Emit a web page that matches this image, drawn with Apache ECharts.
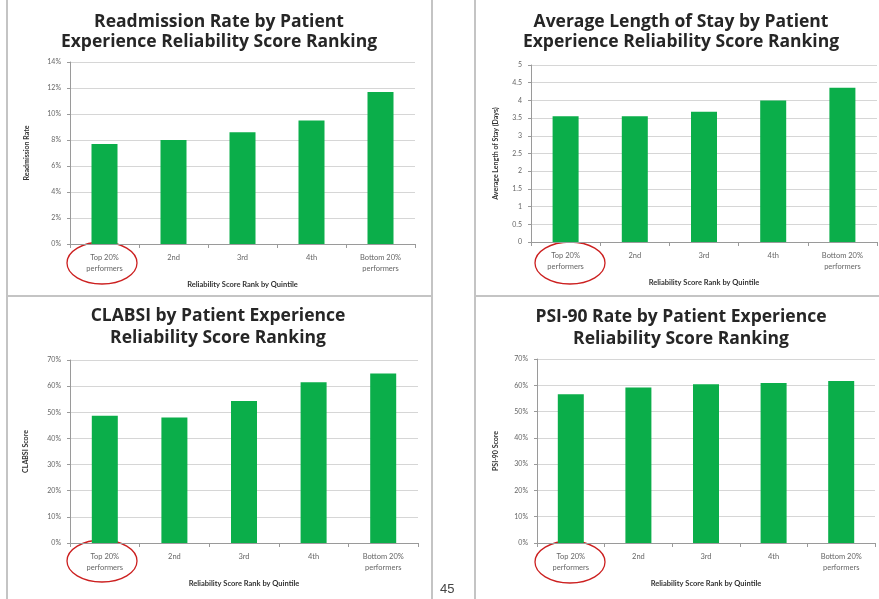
<!DOCTYPE html>
<html>
<head>
<meta charset="utf-8">
<script src="https://cdn.jsdelivr.net/npm/echarts@6/dist/echarts.min.js"></script>
<style>
  html, body { margin: 0; padding: 0; background: #fff; }
  #chart { width: 879px; height: 599px; }
</style>
</head>
<body>
<div id="chart"></div>
<script>
// Quintile categories shared by all four panels
const categories = ['Top 20%\nperformers', '2nd', '3rd', '4th', 'Bottom 20%\nperformers'];

// Panel values by quintile
const readmissionRate = [7.7, 8.0, 8.6, 9.5, 11.7];      // %
const lengthOfStay = [3.55, 3.55, 3.68, 4.0, 4.36];       // days
const clabsiScore = [48.7, 48.0, 54.3, 61.5, 64.8];       // %
const psi90Score = [56.6, 59.2, 60.4, 60.9, 61.6];        // %

// Panel titles and axis names
const titles = [
  'Readmission Rate by Patient\nExperience Reliability Score Ranking',
  'Average Length of Stay by Patient\nExperience Reliability Score Ranking',
  'CLABSI by Patient Experience\nReliability Score Ranking',
  'PSI-90 Rate by Patient Experience\nReliability Score Ranking'
];
const yNames = ['Readmission Rate', 'Average Length of Stay (Days)', 'CLABSI Score', 'PSI-90 Score'];
const xName = 'Reliability Score Rank by Quintile';

const FONT = 'Lato, "Liberation Sans", sans-serif';
const TITLE_FONT = '"Open Sans", Lato, sans-serif';
const BAR = '#0BAE4A';

const grids = [
  { left: 70, top: 62, width: 345, height: 182 },
  { left: 531, top: 65, width: 346, height: 177 },
  { left: 70, top: 360, width: 348, height: 183 },
  { left: 537, top: 359, width: 338, height: 184 }
];
const titlePos = [
  { x: 219, y: 12, lh: 20 },
  { x: 681, y: 12, lh: 20 },
  { x: 218, y: 305, lh: 22 },
  { x: 681, y: 306, lh: 22 }
];
const yScale = [
  { min: 0, max: 14, interval: 2, fmt: '{value}%', gap: 40 },
  { min: 0, max: 5, interval: 0.5, fmt: v => String(v), gap: 32 },
  { min: 0, max: 70, interval: 10, fmt: '{value}%', gap: 41 },
  { min: 0, max: 70, interval: 10, fmt: '{value}%', gap: 38 }
];
const seriesData = [readmissionRate, lengthOfStay, clabsiScore, psi90Score];

const chart = echarts.init(document.getElementById('chart'), null, { renderer: 'canvas' });

const option = {
  animation: false,
  backgroundColor: '#ffffff',
  title: titles.map((t, i) => ({
    text: t,
    left: titlePos[i].x,
    top: titlePos[i].y,
    textAlign: 'center',
    padding: 0,
    textStyle: {
      fontFamily: TITLE_FONT,
      fontWeight: 'bold',
      fontSize: 17.5,
      lineHeight: titlePos[i].lh,
      color: '#262626'
    }
  })),
  grid: grids,
  xAxis: grids.map((g, i) => ({
    type: 'category',
    gridIndex: i,
    data: categories,
    name: xName,
    nameLocation: 'middle',
    nameGap: 37,
    nameTextStyle: { fontFamily: FONT, fontSize: 7.5, fontWeight: 'bold', color: '#333' },
    axisLine: { lineStyle: { color: '#9a9a9a', width: 1 } },
    axisTick: { show: true, length: 4, lineStyle: { color: '#9a9a9a' } },
    axisLabel: { fontFamily: FONT, fontSize: 7.5, color: '#666', margin: 8, lineHeight: 11 }
  })),
  yAxis: grids.map((g, i) => ({
    type: 'value',
    gridIndex: i,
    min: yScale[i].min,
    max: yScale[i].max,
    interval: yScale[i].interval,
    name: yNames[i],
    nameLocation: 'middle',
    nameRotate: 90,
    nameGap: yScale[i].gap,
    nameTextStyle: { fontFamily: FONT, fontSize: 7, fontWeight: 'bold', color: '#333' },
    axisLine: { show: true, lineStyle: { color: '#9a9a9a', width: 1 } },
    axisTick: { show: true, length: 3, lineStyle: { color: '#9a9a9a' } },
    axisLabel: { fontFamily: FONT, fontSize: 7, color: '#666', margin: 9, formatter: yScale[i].fmt },
    splitLine: { show: true, lineStyle: { color: '#d6d6d6', width: 1 } }
  })),
  series: seriesData.map((d, i) => ({
    type: 'bar',
    xAxisIndex: i,
    yAxisIndex: i,
    data: d,
    barWidth: 26,
    itemStyle: { color: BAR },
    silent: true
  })),
  graphic: [
    // panel frames
    { type: 'line', shape: { x1: 7, y1: 0, x2: 7, y2: 599 }, style: { stroke: '#c4c4c4', lineWidth: 2 }, silent: true },
    { type: 'line', shape: { x1: 432, y1: 0, x2: 432, y2: 599 }, style: { stroke: '#c4c4c4', lineWidth: 2 }, silent: true },
    { type: 'line', shape: { x1: 475, y1: 0, x2: 475, y2: 599 }, style: { stroke: '#c4c4c4', lineWidth: 2 }, silent: true },
    { type: 'line', shape: { x1: 7, y1: 296, x2: 432, y2: 296 }, style: { stroke: '#c4c4c4', lineWidth: 2 }, silent: true },
    { type: 'line', shape: { x1: 475, y1: 296, x2: 879, y2: 296 }, style: { stroke: '#c4c4c4', lineWidth: 2 }, silent: true },
    // circled top-quintile labels
    { type: 'ellipse', shape: { cx: 102, cy: 263, rx: 35, ry: 21 }, style: { fill: 'none', stroke: '#cc1f1f', lineWidth: 1.3 }, silent: true },
    { type: 'ellipse', shape: { cx: 570, cy: 263, rx: 35, ry: 21 }, style: { fill: 'none', stroke: '#cc1f1f', lineWidth: 1.3 }, silent: true },
    { type: 'ellipse', shape: { cx: 102, cy: 561, rx: 35, ry: 21 }, style: { fill: 'none', stroke: '#cc1f1f', lineWidth: 1.3 }, silent: true },
    { type: 'ellipse', shape: { cx: 570, cy: 562, rx: 35, ry: 21 }, style: { fill: 'none', stroke: '#cc1f1f', lineWidth: 1.3 }, silent: true },
    // page number
    { type: 'text', x: 440, y: 583, style: { text: '45', fontFamily: '"Liberation Sans", Arial, sans-serif', fontSize: 13, fill: '#444' }, silent: true }
  ]
};

chart.setOption(option);
</script>
</body>
</html>
